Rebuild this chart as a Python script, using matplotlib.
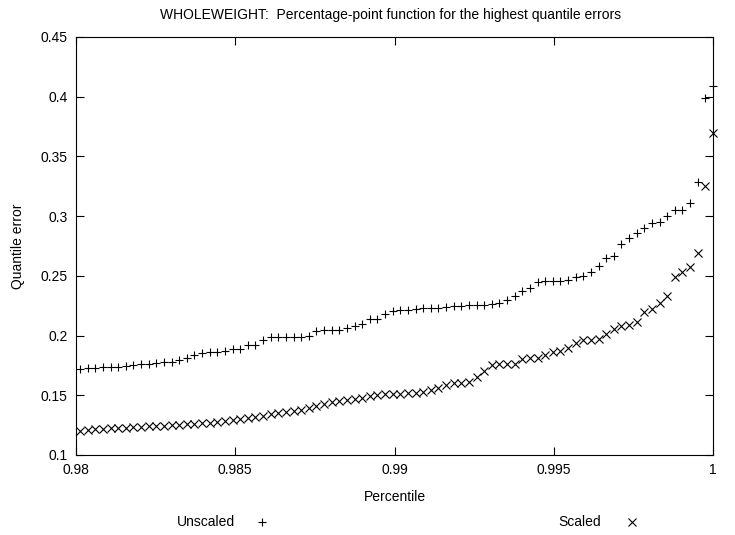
import numpy as np
import matplotlib
matplotlib.use("Agg")
import matplotlib.pyplot as plt
from matplotlib.lines import Line2D

plt.rcParams['font.family'] = ['Liberation Sans', 'DejaVu Sans']

# ranks of the top observations out of 4177 samples
n_total = 4177
ranks = np.arange(4094, 4178)
percentile = ranks / n_total

unscaled = [
    0.172, 0.1725, 0.173, 0.1735, 0.174, 0.174, 0.1745, 0.175, 0.176, 0.1765,
    0.177, 0.1775, 0.178, 0.1795, 0.181, 0.1835, 0.185, 0.186, 0.1866, 0.187,
    0.189, 0.189, 0.192, 0.192, 0.196, 0.199, 0.199, 0.199, 0.199, 0.199,
    0.1995, 0.204, 0.205, 0.205, 0.205, 0.206, 0.208, 0.210, 0.2135, 0.214,
    0.218, 0.2205, 0.221, 0.221, 0.2225, 0.223, 0.223, 0.2235, 0.224, 0.225,
    0.225, 0.2255, 0.2255, 0.226, 0.2265, 0.227, 0.230, 0.233, 0.237, 0.240,
    0.2445, 0.2455, 0.2458, 0.246, 0.2465, 0.249, 0.2495, 0.253, 0.258, 0.265,
    0.2665, 0.2767, 0.282, 0.2857, 0.290, 0.2945, 0.295, 0.300, 0.305, 0.3055,
    0.311, 0.3284, 0.399, 0.409,
]

scaled = [
    0.1205, 0.121, 0.1215, 0.122, 0.1222, 0.1225, 0.123, 0.1233, 0.1236, 0.124,
    0.1243, 0.1247, 0.125, 0.1255, 0.126, 0.1262, 0.1267, 0.127, 0.128, 0.1285,
    0.129, 0.130, 0.131, 0.132, 0.133, 0.1343, 0.135, 0.136, 0.137, 0.138,
    0.139, 0.141, 0.1425, 0.144, 0.145, 0.146, 0.147, 0.1475, 0.149, 0.150,
    0.151, 0.151, 0.1512, 0.1515, 0.152, 0.153, 0.1545, 0.156, 0.159, 0.160,
    0.1606, 0.161, 0.1657, 0.170, 0.175, 0.176, 0.176, 0.1765, 0.180, 0.181,
    0.1815, 0.1838, 0.186, 0.1875, 0.190, 0.194, 0.196, 0.1965, 0.197, 0.201,
    0.2053, 0.208, 0.209, 0.2117, 0.220, 0.222, 0.227, 0.233, 0.249, 0.2536,
    0.2572, 0.269, 0.3256, 0.370,
]

xticks = [0.98, 0.985, 0.99, 0.995, 1.0]
xticklabels = ["0.98", "0.985", "0.99", "0.995", "1"]
yticks = [0.1, 0.15, 0.2, 0.25, 0.3, 0.35, 0.4, 0.45]
yticklabels = ["0.1", "0.15", "0.2", "0.25", "0.3", "0.35", "0.4", "0.45"]

FS = 10

fig = plt.figure(figsize=(7.35, 5.35), dpi=100)
ax = fig.add_axes([76/735, 1 - 455/535, (713 - 76)/735, (455 - 37)/535])

ax.plot(percentile, unscaled, linestyle='none', marker='+', color='black',
        markersize=6, markeredgewidth=0.8, clip_on=False)
ax.plot(percentile, scaled, linestyle='none', marker='x', color='black',
        markersize=5.5, markeredgewidth=0.8, clip_on=False)

ax.set_xlim(0.98, 1.0)
ax.set_ylim(0.1, 0.45)
ax.set_xticks(xticks)
ax.set_xticklabels(xticklabels)
ax.set_yticks(yticks)
ax.set_yticklabels(yticklabels)
ax.tick_params(direction='in', length=6, width=0.8, top=True, right=True,
               labelsize=FS, pad=6)
for s in ax.spines.values():
    s.set_linewidth(0.8)

ax.set_xlabel("Percentile", fontsize=FS, labelpad=9)
ax.set_ylabel("Quantile error", fontsize=FS, labelpad=11)
fig.text(391/735, 1 - 15/535, "WHOLEWEIGHT:  Percentage-point function for the highest quantile errors",
         ha='center', va='center', fontsize=FS)

# legend at bottom
fig.text(235/735, 1 - 522/535, "Unscaled", ha='right', va='center', fontsize=FS)
fig.text(601/735, 1 - 522/535, "Scaled", ha='right', va='center', fontsize=FS)
fig.add_artist(Line2D([262/735], [1 - 522/535], marker='+', color='black',
                      markersize=6, markeredgewidth=0.8, linestyle='none',
                      transform=fig.transFigure))
fig.add_artist(Line2D([632/735], [1 - 522/535], marker='x', color='black',
                      markersize=5.5, markeredgewidth=0.8, linestyle='none',
                      transform=fig.transFigure))

fig.savefig("out.png", dpi=100)
